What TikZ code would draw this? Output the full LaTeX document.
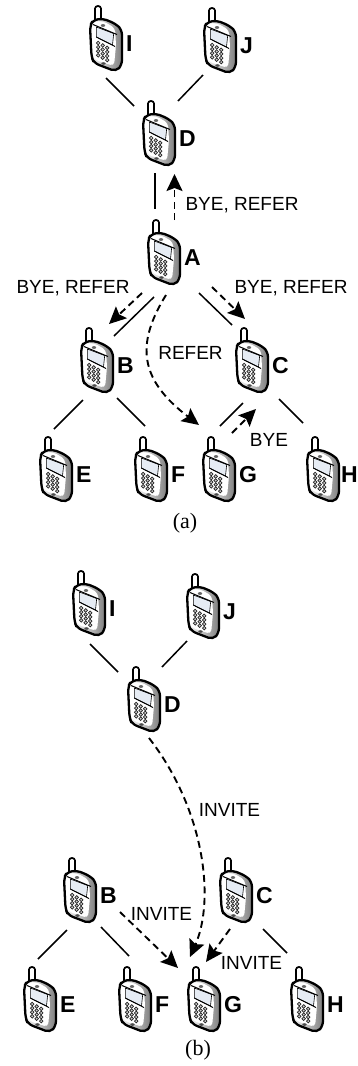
\documentclass[tikz,border=0pt]{standalone}
\usepackage{fontspec}
\setmainfont{Liberation Sans}
\newfontfamily\capfont{Liberation Serif}
\usetikzlibrary{arrows.meta}
\definecolor{screenc}{HTML}{E6ECF4}
\tikzset{
  phonebox/.style={minimum width=34pt,minimum height=67pt,inner sep=0pt,draw=none},
  lab/.style={font=\fontsize{23}{23}\selectfont\bfseries,inner sep=0pt,anchor=west},
  msg/.style={font=\fontsize{19}{19}\selectfont,inner sep=0pt,anchor=center},
  capt/.style={font=\capfont\fontsize{22}{22}\selectfont,inner sep=0pt,anchor=center},
  link/.style={line width=1.5pt,black},
  sig/.style={line width=1.9pt,black,dash pattern=on 7pt off 4.5pt,-{Stealth[length=17pt,width=16pt,inset=3pt]}},
  phoneline/.style={line width=2.3pt,black,line join=round},
  phonethin/.style={line width=0.7pt,black!85},
}
\newcommand{\phone}[5][20]{% label offset; name, label, x, y of centre
  \node[phonebox] (#2) at (#4,#5) {};
  \begin{scope}[shift={(#2.center)},shift={(-8,-33)}]
    \draw[line width=7.2pt,black,line cap=round] (0,3.6) -- (0,15);
    \draw[line width=3.2pt,white,line cap=round] (0,3.6) -- (0,14);
    \shade[left color=white,right color=black!50,draw=none,rounded corners=5pt]
      (-8,21) -- (-5,15) -- (5,13.5) -- (18,19) -- (24,25) -- (24,60) -- (18,66.5) -- (-4,58) -- (-6.5,52) -- cycle;
    \fill[white,rounded corners=4pt] (-7,21) -- (-4,16.5) -- (5,16) -- (17,23) -- (18,40) -- (16,61) -- (-3,55) -- (-5.5,50) -- cycle;
    \draw[phoneline,rounded corners=5pt]
      (-8,21) -- (-5,15) -- (5,13.5) -- (18,19) -- (24,25) -- (24,60) -- (18,66.5) -- (-4,58) -- (-6.5,52) -- cycle;
    \draw[line width=0.6pt,black,fill=screenc] (-1.7,22) -- (15.7,28.5) -- (14.5,40) -- (-1.7,32) -- cycle;
    \draw[line width=1pt] (-5,19.5) -- (19,29.5);
    \draw[line width=0.9pt] (-1.7,32) -- (17,41.5);
    \fill[black!60] (5,20.5) ellipse (2.2pt and 1.4pt);
    \foreach \r in {0,1,2,3}{
      \foreach \c in {0,1,2}{
        \draw[phonethin,fill=black!20] ({0.2+4.5*\c},{38+2.4*\c+4.1*\r}) circle (1.8pt);
      }
    }
    \fill[black!70] (5.5,58.5) ellipse (2.2pt and 1.3pt);
  \end{scope}
  \node[lab] (#2-l) at ([shift={(#1,6)}]#2.center) {#3};
}
\begin{document}
\begin{tikzpicture}[x=1pt,y=-1pt]
\useasboundingbox (0,0) rectangle (358,1066);
% ---------- (a)
\phone{Ia}{I}{106}{38}
\phone{Ja}{J}{220}{40}
\phone{Da}{D}{159}{133}
\phone{Aa}{A}{164}{252}
\phone{Ba}{B}{97}{360}
\phone{Ca}{C}{252}{360}
\phone{Ea}{E}{56}{469}
\phone{Fa}{F}{151}{469}
\phone{Ga}{G}{219}{469}
\phone[18]{Ha}{H}{323}{469}
\draw[link] ([shift={(0,40)}]Ia.center) -- ([shift={(-25,-27)}]Da.center);
\draw[link] ([shift={(-17,35)}]Ja.center) -- ([shift={(19,-32)}]Da.center);
\draw[link] ([shift={(-4,40)}]Da.center) -- ([shift={(-9,-43)}]Aa.center);
\draw[sig] ([shift={(10.5,-32)}]Aa.center) -- ([shift={(15.5,41)}]Da.center);
\draw[sig] ([shift={(-22,41)}]Aa.center) -- ([shift={(12,-36)}]Ba.center);
\draw[link] ([shift={(-10,45)}]Aa.center) -- ([shift={(17,-24)}]Ba.center);
\draw[link] ([shift={(35,41)}]Aa.center) -- ([shift={(-20,-35)}]Ca.center);
\draw[sig] ([shift={(48,35)}]Aa.center) -- ([shift={(-7,-41)}]Ca.center);
\draw[sig] ([shift={(2,43)}]Aa.center) .. controls ([shift={(-29,93)}]Aa.center) and ([shift={(-79,-89)}]Ga.center) .. ([shift={(-20,-44)}]Ga.center);
\draw[link] ([shift={(-9,43)}]Ca.center) -- ([shift={(1,-43)}]Ga.center);
\draw[sig] ([shift={(13,-36)}]Ga.center) -- ([shift={(4,49)}]Ca.center);
\draw[link] ([shift={(27,39)}]Ca.center) -- ([shift={(-20,-46)}]Ha.center);
\draw[link] ([shift={(-14,40)}]Ba.center) -- ([shift={(-2,-40)}]Ea.center);
\draw[link] ([shift={(20,38)}]Ba.center) -- ([shift={(-6,-43)}]Fa.center);
\node[msg] (m1) at (242,205) {BYE, REFER};
\node[msg] (m2) at (73,288) {BYE, REFER};
\node[msg] (m3) at (291,288) {BYE, REFER};
\node[msg] (m4) at (190.5,353) {REFER};
\node[msg] (m5) at (269,440) {BYE};
\node[capt] (ca) at (185,523) {(a)};
% ---------- (b)
\phone{Ib}{I}{89}{603}
\phone{Jb}{J}{203}{606}
\phone{Db}{D}{144}{699}
\phone{Bb}{B}{80}{890}
\phone{Cb}{C}{236}{890}
\phone{Eb}{E}{40}{999}
\phone{Fb}{F}{135}{999}
\phone{Gb}{G}{204}{999}
\phone{Hb}{H}{307}{999}
\draw[link] ([shift={(1,41)}]Ib.center) -- ([shift={(-26,-27)}]Db.center);
\draw[link] ([shift={(-16,35)}]Jb.center) -- ([shift={(18,-32)}]Db.center);
\draw[sig] ([shift={(5,39)}]Db.center) .. controls ([shift={(61,111)}]Db.center) and ([shift={(11,-99)}]Gb.center) .. ([shift={(-14,-42)}]Gb.center);
\draw[sig] ([shift={(40,22)}]Bb.center) -- ([shift={(-26,-31)}]Gb.center);
\draw[sig] ([shift={(-6,39)}]Cb.center) -- ([shift={(2,-37)}]Gb.center);
\draw[link] ([shift={(-13,40)}]Bb.center) -- ([shift={(-2,-40)}]Eb.center);
\draw[link] ([shift={(21,37)}]Bb.center) -- ([shift={(-6,-43)}]Fb.center);
\draw[link] ([shift={(27,39)}]Cb.center) -- ([shift={(-20,-46)}]Hb.center);
\node[msg] (m6) at (229.5,810) {INVITE};
\node[msg] (m7) at (161.5,914) {INVITE};
\node[msg] (m8) at (251.5,963) {INVITE};
\node[capt] (cb) at (198,1050) {(b)};
\end{tikzpicture}
\end{document}
